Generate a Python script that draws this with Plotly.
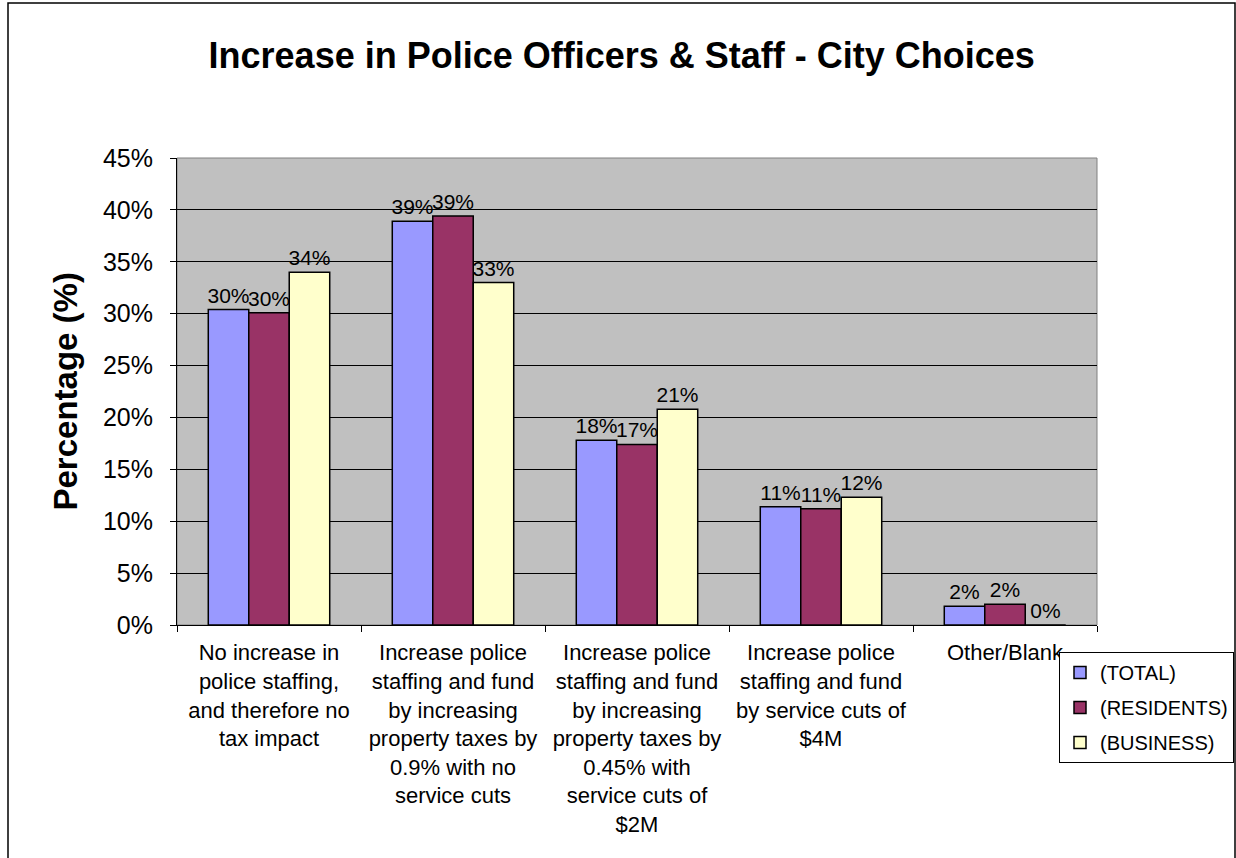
import plotly.graph_objects as go

categories = [
    "No increase in<br>police staffing,<br>and therefore no<br>tax impact",
    "Increase police<br>staffing and fund<br>by increasing<br>property taxes by<br>0.9% with no<br>service cuts",
    "Increase police<br>staffing and fund<br>by increasing<br>property taxes by<br>0.45% with<br>service cuts of<br>$2M",
    "Increase police<br>staffing and fund<br>by service cuts of<br>$4M",
    "Other/Blank",
]
series_names = ["(TOTAL)", "(RESIDENTS)", "(BUSINESS)"]
total = [30.4, 38.9, 17.8, 11.4, 1.8]
residents = [30.1, 39.4, 17.4, 11.2, 2.0]
business = [34.0, 33.0, 20.8, 12.3, 0.0]
colors = ["#9999FF", "#993366", "#FFFFCC"]

FONT = "Arial, Liberation Sans, sans-serif"

fig = go.Figure()
for i, (name, vals) in enumerate(zip(series_names, [total, residents, business])):
    fig.add_trace(go.Bar(
        x=categories, y=vals, name=name,
        marker=dict(color=colors[i], line=dict(color="black", width=1.5)),
        texttemplate="%{y:.0f}%", textposition="outside", constraintext="none",
        textfont=dict(family=FONT, size=21, color="black"),
        cliponaxis=False, legendgroup=name,
    ))

fig.update_layout(
    width=1236, height=858,
    margin=dict(l=177, r=139, t=158, b=233, autoexpand=False),
    paper_bgcolor="white", plot_bgcolor="#C0C0C0",
    barmode="group", bargap=0.34, bargroupgap=0,
    font=dict(family=FONT, color="black"),
    title=dict(text="<b>Increase in Police Officers & Staff - City Choices</b>",
               x=0.503, xanchor="center", y=1 - 55 / 858, yanchor="middle",
               font=dict(size=36, family=FONT, color="black")),
    legend=dict(xref="container", yref="container",
                x=1234 / 1236, y=1 - 652 / 858, xanchor="right", yanchor="top",
                bgcolor="white", bordercolor="black", borderwidth=1,
                font=dict(size=20, family=FONT, color="black"),
                tracegroupgap=6),
    showlegend=True,
)
fig.update_xaxes(
    showline=True, linecolor="black", linewidth=1,
    ticks="outside", tickson="boundaries", ticklen=6, tickcolor="black",
    tickfont=dict(size=22, family=FONT, color="black"),
    tickangle=0, showgrid=False, ticklabelstandoff=8, automargin=False,
)
fig.update_yaxes(
    range=[0, 45], dtick=5, ticksuffix="%",
    showline=True, linecolor="black", linewidth=1,
    ticks="outside", ticklen=6, tickcolor="black",
    tickfont=dict(size=25, family=FONT, color="black"),
    showgrid=True, gridcolor="black", gridwidth=1, zeroline=False,
    ticklabelstandoff=12, automargin=False,
)
fig.add_annotation(
    text="<b>Percentage (%)</b>", textangle=-90,
    xref="paper", yref="paper", x=(65 - 177) / 920, y=0.5,
    xanchor="center", yanchor="middle", showarrow=False,
    font=dict(size=33, family=FONT, color="black"),
)
# plot-area border (gray) and outer chart border
fig.add_shape(type="rect", xref="paper", yref="paper", x0=0, x1=1, y0=0, y1=1,
              line=dict(color="#808080", width=1), layer="below")
fig.add_shape(type="rect", xref="paper", yref="paper",
              x0=(8 - 177) / 920, x1=(1235 - 177) / 920,
              y0=-0.7, y1=(625 - 3) / 467,
              line=dict(color="black", width=1.5))

fig.write_html("out.html")
